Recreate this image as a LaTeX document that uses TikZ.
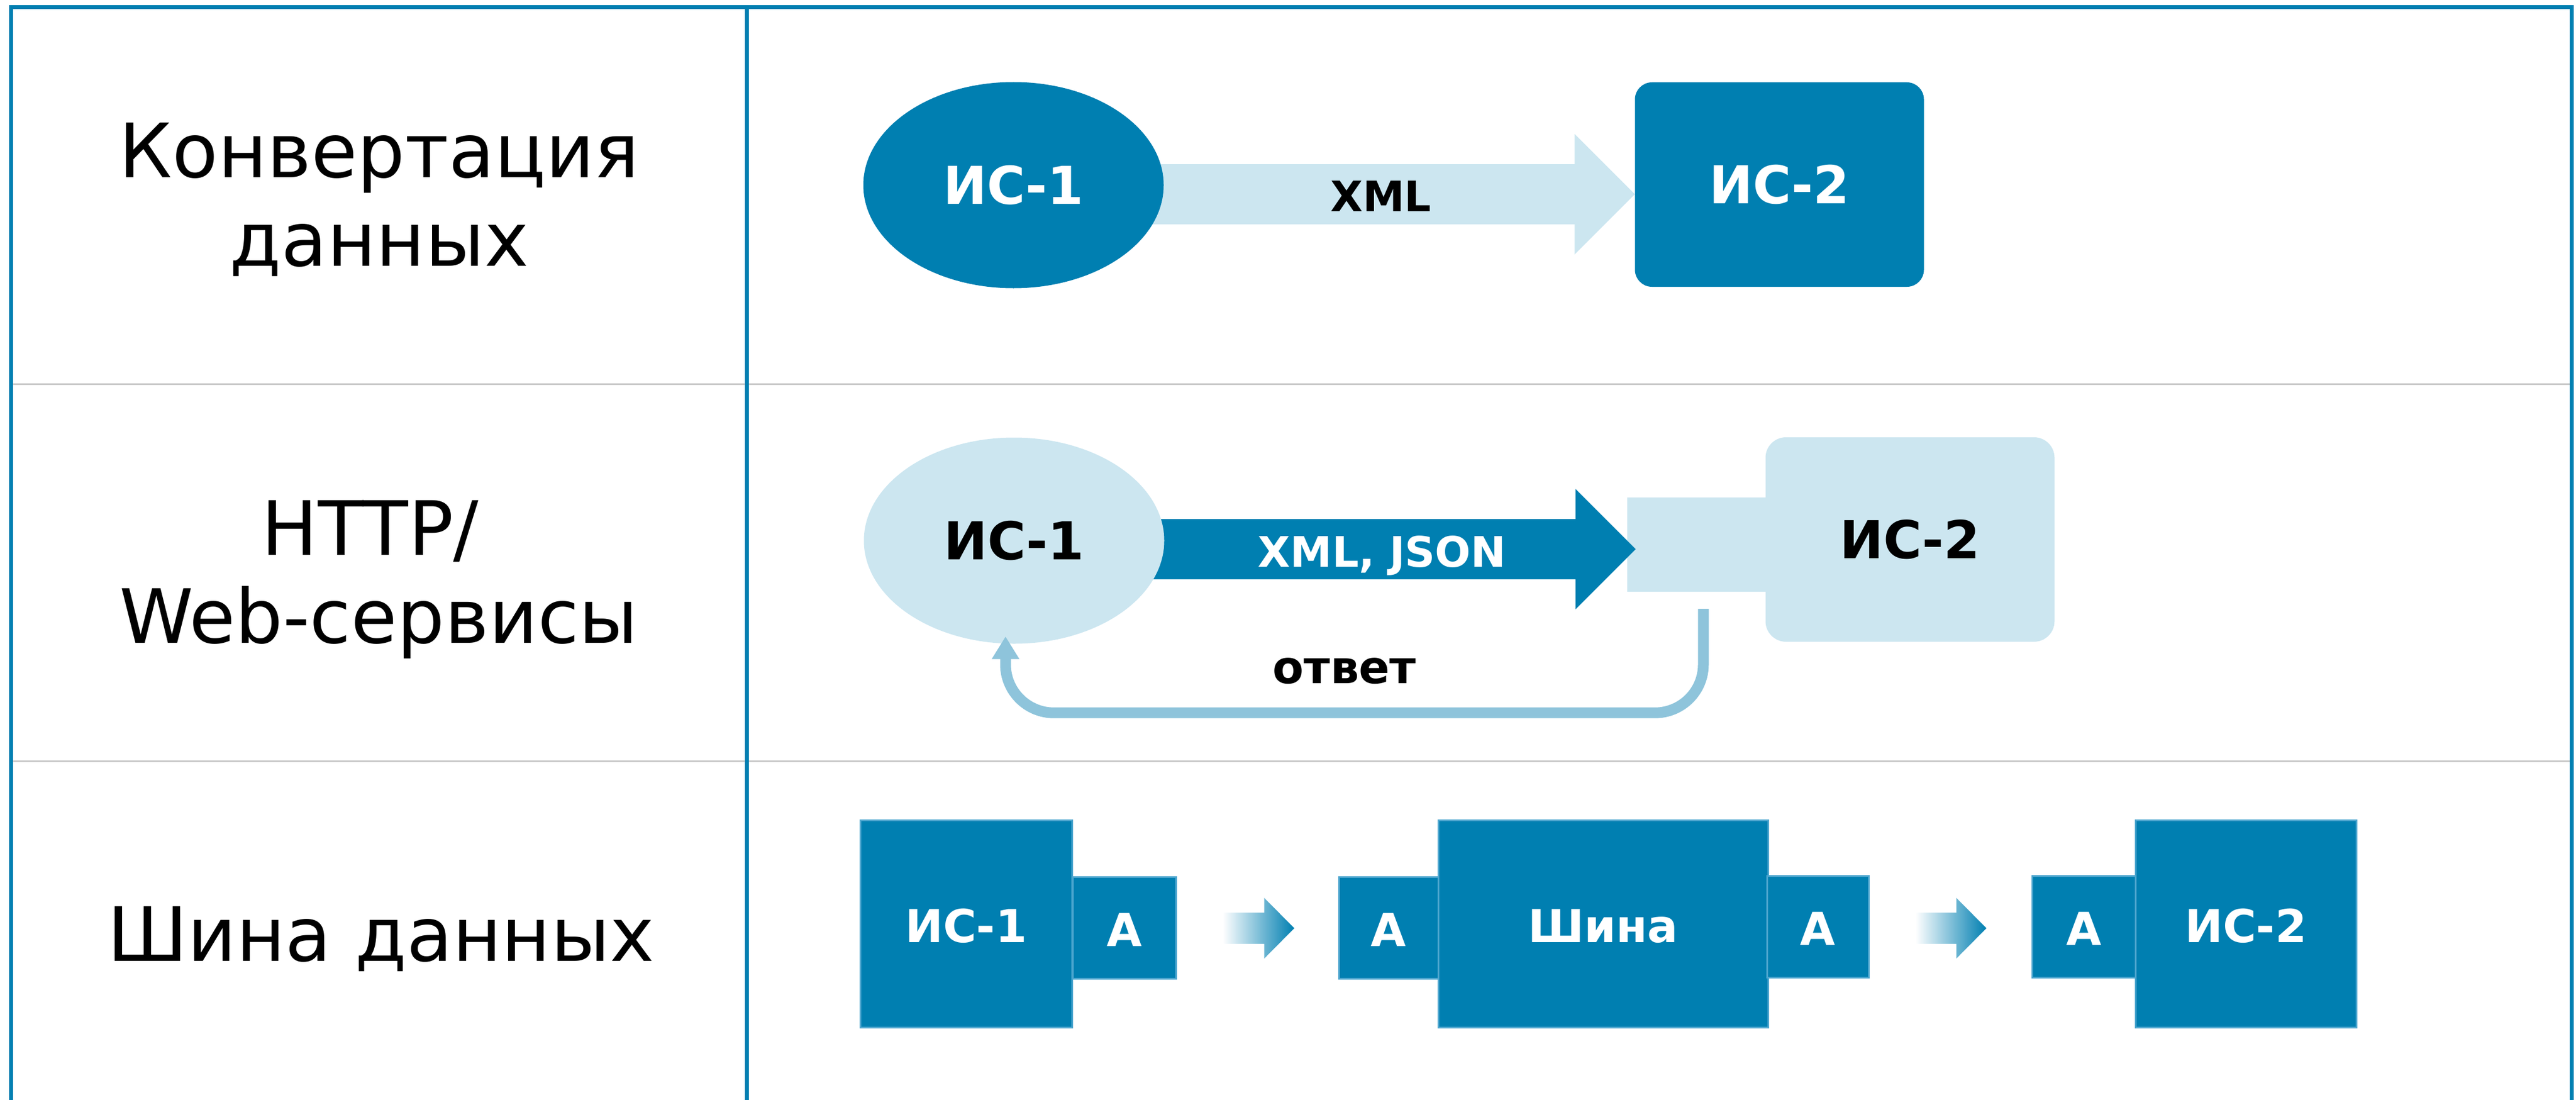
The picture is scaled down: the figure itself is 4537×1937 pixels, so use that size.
\documentclass[tikz,border=0pt]{standalone}
\usepackage{fontspec}
\setmainfont{DejaVu Sans}
\usetikzlibrary{shapes.geometric,arrows.meta,calc,backgrounds}
\definecolor{mblue}{RGB}{0,127,177}
\definecolor{lblue}{RGB}{204,230,240}
\definecolor{rblue}{RGB}{142,196,219}
\definecolor{edgeblue}{RGB}{77,166,207}
\definecolor{gridgray}{RGB}{200,200,200}
\newcommand\blkarrow[6]{%
  \path[#1] ($(#2)+(0,-#4)$) -- ($(#3)+(-#6,-#4)$) -- ($(#3)+(-#6,-#5)$) -- (#3)
    -- ($(#3)+(-#6,#5)$) -- ($(#3)+(-#6,#4)$) -- ($(#2)+(0,#4)$) -- cycle;}
\begin{document}
\begin{tikzpicture}[x=1pt,y=-1pt,
  lab/.style={font=\fontsize{132}{155}\selectfont, anchor=base, inner sep=0pt},
  arrlab/.style={font=\bfseries\fontsize{74}{88}\selectfont, anchor=base, inner sep=0pt},
  sys/.style={ellipse, minimum width=529pt, minimum height=363pt, inner sep=0pt,
    font=\bfseries\fontsize{92}{110}\selectfont},
  rbox/.style={rectangle, rounded corners=30pt, minimum width=509pt, minimum height=360pt,
    inner sep=0pt, font=\bfseries\fontsize{92}{110}\selectfont},
  bus/.style={rectangle, fill=mblue, draw=edgeblue, line width=3pt, inner sep=0pt,
    text=white, font=\bfseries\fontsize{80}{96}\selectfont, text height=65pt, text depth=0pt},
  tbl/.style={draw=mblue, line width=7pt},
  sepline/.style={draw=gridgray, line width=3pt},
  ret/.style={draw=rblue, line width=19pt, rounded corners=85pt,
    -{Triangle[width=46pt,length=40pt]}}
]
\useasboundingbox (0,0) rectangle (4537,1937);

% table
\draw[sepline] (19.5,676) -- (4529,676);
\draw[sepline] (19.5,1340) -- (4529,1340);
\draw[tbl] (19.5,1937) -- (19.5,12.5) -- (4529,12.5) -- (4529,1937);
\draw[tbl] (1315.5,12.5) -- (1315.5,1937);

% row labels
\node[lab] (l1a) at (668,312) {Конвертация};
\node[lab] (l1b) at (668,468) {данных};
\node[lab] (l2a) at (652,977) {HTTP/};
\node[lab] (l2b) at (667,1132) {Web-сервисы};
\node[lab] (l3) at (671,1692) {Шина данных};

% row 1
\node[sys, fill=mblue, text=white] (e1) at (1785,326) {ИС-1};
\node[rbox, fill=mblue, text=white] (b1) at (3134,325) {ИС-2};
\begin{scope}[on background layer]
  \coordinate (a1s) at ($(e1.east)+(-30,16)$);
  \coordinate (a1t) at ($(b1.west)+(0,17)$);
  \blkarrow{fill=lblue}{a1s}{a1t}{53}{106}{106}
\end{scope}
\node[arrlab] (xml) at (2432,372) {XML};

% row 2
\node[sys, fill=lblue] (e2) at (1786,952) {ИС-1};
\node[rbox, fill=lblue, rounded corners=36pt] (b2) at (3364,950) {ИС-2};
\begin{scope}[on background layer]
  \node[rectangle, fill=lblue, minimum width=244pt, minimum height=166pt, inner sep=0pt] (tab2) at (2988,959) {};
  \coordinate (a2s) at ($(e2.east)+(-30,15)$);
  \coordinate (a2t) at ($(tab2.west)+(15,8)$);
  \blkarrow{fill=mblue}{a2s}{a2t}{53}{106}{106}
\end{scope}
\node[arrlab, text=white] (xj) at (2434,998) {XML, JSON};
\coordinate (rs) at ($(tab2.south)+(12,30)$);
\coordinate (re) at ($(e2.south)+(-15,-13)$);
\draw[ret] (rs) -- ++(0,183) -| (re);
\node[arrlab, font=\bfseries\fontsize{80}{96}\selectfont] (otv) at (2368,1203) {ответ};

% row 3
\node[bus, minimum width=373pt, minimum height=365pt] (s1) at (1701.5,1626.5) {ИС-1};
\node[bus, minimum width=182pt, minimum height=179pt] (sA1) at (1980,1633.5) {А};
\node[bus, minimum width=175pt, minimum height=179pt] (sA2) at (2445.5,1633.5) {А};
\node[bus, minimum width=581pt, minimum height=365pt] (sbus) at (2823.5,1626.5) {Шина};
\node[bus, minimum width=179pt, minimum height=179pt] (sA3) at (3201.5,1631.5) {А};
\node[bus, minimum width=182pt, minimum height=179pt] (sA4) at (3670,1631.5) {А};
\node[bus, minimum width=389pt, minimum height=365pt] (s2) at (3955.5,1626.5) {ИС-2};
\coordinate (g1s) at ($(sA1.east)+(81,1)$);
\coordinate (g1t) at ($(sA2.west)+(-77,1)$);
\blkarrow{shade, shading=axis, left color=white, right color=mblue}{g1s}{g1t}{27.5}{53.5}{53}
\coordinate (g2s) at ($(sA3.east)+(81,3)$);
\coordinate (g2t) at ($(sA4.west)+(-79,3)$);
\blkarrow{shade, shading=axis, left color=white, right color=mblue}{g2s}{g2t}{27.5}{53.5}{53}
\end{tikzpicture}
\end{document}
